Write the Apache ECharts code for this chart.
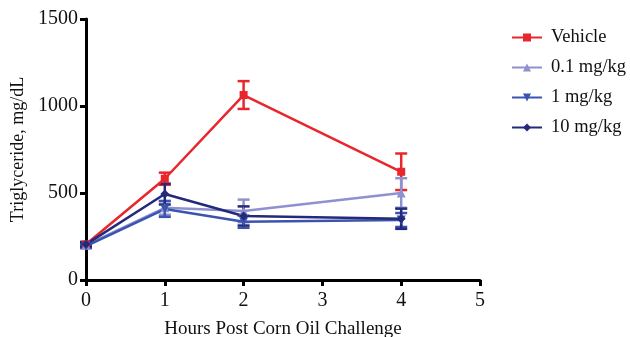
<!DOCTYPE html>
<html><head><meta charset="utf-8">
<script src="https://cdn.jsdelivr.net/npm/echarts@6/dist/echarts.min.js"></script>
<style>html,body{margin:0;padding:0;background:#fff}#c{width:630px;height:337px}</style>
</head><body><div id="c"></div>
<script>
const hours = [0, 1, 2, 4];
const seriesNames = ['Vehicle', '0.1 mg/kg', '1 mg/kg', '10 mg/kg'];
const vehicle = [205, 582, 1063, 622];
const vehicleErr = [15, 35, 80, 105];
const dose01 = [200, 415, 397, 500];
const dose01Err = [12, 40, 65, 85];
const dose1 = [195, 408, 335, 345];
const dose1Err = [12, 45, 35, 40];
const dose10 = [205, 494, 368, 352];
const dose10Err = [12, 60, 55, 58];
const xTicks = [0, 1, 2, 3, 4, 5];
const yTicks = [0, 500, 1000, 1500];

const colors = ['#e8262c', '#8e91d0', '#3b54b0', '#232a7a'];
const symbols = ['rect', 'triangle', 'path://M0,0 L10,0 L5,9 Z', 'diamond'];
const symSizes = [8, 9, 9, 9];
const means = [vehicle, dose01, dose1, dose10];
const errs = [vehicleErr, dose01Err, dose1Err, dose10Err];
const font = 'Liberation Serif';

const series = [];
means.forEach((m, i) => {
  series.push({
    type: 'custom', name: seriesNames[i] + ' err', z: 2,
    itemStyle: {color: colors[i]},
    data: hours.map((h, j) => [h, m[j] - errs[i][j], m[j] + errs[i][j]]),
    renderItem: (params, api) => {
      const lo = api.coord([api.value(0), api.value(1)]);
      const hi = api.coord([api.value(0), api.value(2)]);
      const w = 6;
      const st = {stroke: colors[i], lineWidth: 2.5};
      return {type: 'group', children: [
        {type: 'line', shape: {x1: lo[0], y1: lo[1], x2: hi[0], y2: hi[1]}, style: st},
        {type: 'line', shape: {x1: lo[0]-w, y1: lo[1], x2: lo[0]+w, y2: lo[1]}, style: st},
        {type: 'line', shape: {x1: hi[0]-w, y1: hi[1], x2: hi[0]+w, y2: hi[1]}, style: st}
      ]};
    }
  });
  series.push({
    type: 'line', name: seriesNames[i], z: 3,
    data: hours.map((h, j) => [h, m[j]]),
    symbol: symbols[i], symbolSize: symSizes[i],
    lineStyle: {color: colors[i], width: 2.5},
    itemStyle: {color: colors[i]},
    emphasis: {disabled: true}
  });
});

const chart = echarts.init(document.getElementById('c'), null, {renderer: 'canvas'});
chart.setOption({
  animation: false,
  textStyle: {fontFamily: font},
  grid: {left: 86, right: 150, top: 19, bottom: 57, outerBoundsMode: 'none', containLabel: false},
  legend: {
    data: seriesNames,
    orient: 'vertical', left: 506, top: 23, itemGap: 11,
    itemWidth: 30, itemHeight: 10,
    textStyle: {fontFamily: font, fontSize: 18.5, color: '#111', padding: [0, 0, 0, 4]},
    selectedMode: false
  },
  xAxis: {
    type: 'value', min: 0, max: 5, interval: 1,
    name: 'Hours Post Corn Oil Challenge', nameLocation: 'middle', nameGap: 40,
    nameTextStyle: {fontFamily: font, fontSize: 19, color: '#111'},
    axisLine: {lineStyle: {color: '#000', width: 3}},
    axisTick: {length: 6, lineStyle: {color: '#000', width: 3}},
    axisLabel: {fontFamily: font, fontSize: 20, color: '#111', margin: 11},
    splitLine: {show: false}
  },
  yAxis: {
    type: 'value', min: 0, max: 1500, interval: 500,
    name: 'Triglyceride, mg/dL', nameLocation: 'middle', nameGap: 54,
    nameTextStyle: {fontFamily: font, fontSize: 18, color: '#111'},
    axisLine: {show: true, lineStyle: {color: '#000', width: 3}},
    axisTick: {show: true, length: 6, lineStyle: {color: '#000', width: 3}},
    axisLabel: {fontFamily: font, fontSize: 20, color: '#111', margin: 8, formatter: v => String(v)},
    splitLine: {show: false}
  },
  series: series
});
</script></body></html>
